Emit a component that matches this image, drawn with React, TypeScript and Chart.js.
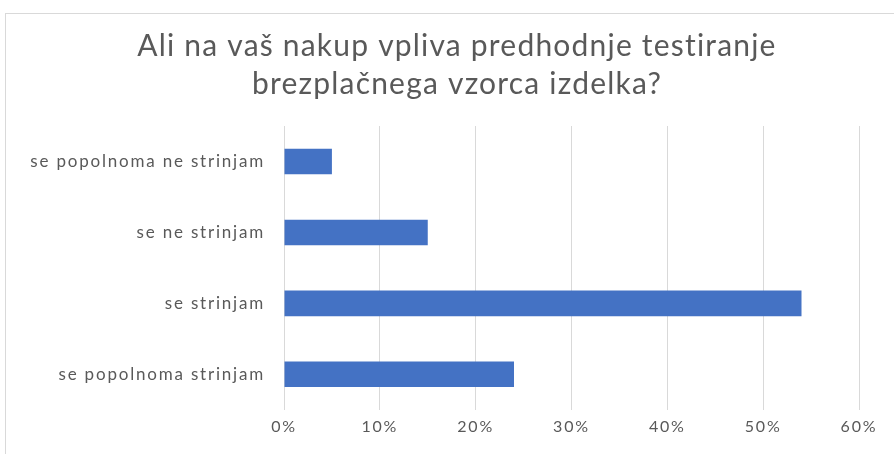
import React, { useEffect, useRef } from "react";
import { Chart, registerables } from "chart.js";

Chart.register(...registerables);

const titleLines = ["Ali na vaš nakup vpliva predhodnje testiranje", "brezplačnega vzorca izdelka?"];
const categories = ["se popolnoma ne strinjam", "se ne strinjam", "se strinjam", "se popolnoma strinjam"];
const values = [5, 15, 54, 24];
const xTicks = [0, 10, 20, 30, 40, 50, 60];

const spacingPlugin = {
  id: "spacing",
  beforeDraw(chart: any) {
    chart.ctx.letterSpacing = "1.8px";
  },
};

const titlePlugin = {
  id: "customTitle",
  afterDraw(chart: any) {
    const ctx = chart.ctx;
    ctx.save();
    ctx.letterSpacing = "1.2px";
    ctx.font = "30px Lato";
    ctx.fillStyle = "#595959";
    ctx.textAlign = "center";
    ctx.textBaseline = "alphabetic";
    ctx.fillText(titleLines[0], 457, 56);
    ctx.fillText(titleLines[1], 457, 94);
    ctx.restore();
  },
};

export default function App() {
  const ref = useRef<HTMLCanvasElement | null>(null);
  useEffect(() => {
    const canvas = ref.current;
    if (!canvas) return;
    const chart = new Chart(canvas, {
      type: "bar",
      data: {
        labels: categories,
        datasets: [
          {
            data: values,
            backgroundColor: "#4472C4",
            borderWidth: 0,
            barPercentage: 0.36,
            categoryPercentage: 1,
          },
        ],
      },
      plugins: [spacingPlugin, titlePlugin],
      options: {
        indexAxis: "y",
        animation: false,
        responsive: false,
        maintainAspectRatio: false,
        layout: { padding: { left: 0, right: 35, top: 126, bottom: 11 } },
        plugins: {
          legend: { display: false },
          tooltip: { enabled: false },
          title: { display: false },
        },
        scales: {
          x: {
            min: 0,
            max: 60,
            afterBuildTicks: (s: any) => {
              s.ticks = xTicks.map((v) => ({ value: v }));
            },
            ticks: {
              color: "#595959",
              font: { family: "Lato", size: 16 },
              padding: 7,
              callback: (v: any) => v + "%",
            },
            grid: { color: "#d9d9d9", lineWidth: 1, drawTicks: false },
            border: { display: false },
          },
          y: {
            afterFit: (s: any) => {
              s.width = 284;
            },
            ticks: {
              color: "#595959",
              font: { family: "Lato", size: 17 },
              padding: 19,
            },
            grid: { display: false, drawTicks: false },
            border: { display: false },
          },
        },
      },
    });
    return () => chart.destroy();
  }, []);
  return (
    <div style={{ position: "fixed", left: 0, top: 0, width: 894, height: 454, background: "#fff", overflow: "hidden" }}>
      <div
        style={{
          position: "absolute",
          left: 5,
          top: 13,
          width: 1000,
          height: 1000,
          border: "1px solid #d9d9d9",
          boxSizing: "border-box",
        }}
      />
      <canvas ref={ref} width={894} height={454} style={{ position: "absolute", left: 0, top: 0 }} />
    </div>
  );
}
